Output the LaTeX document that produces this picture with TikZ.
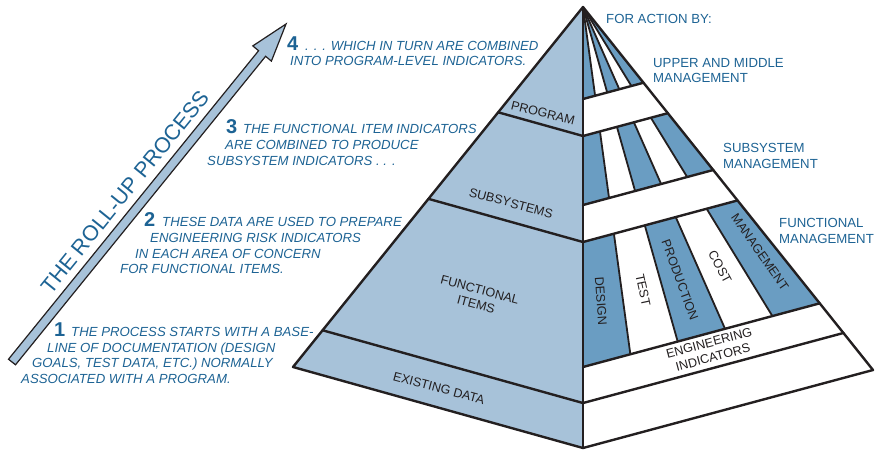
\documentclass[tikz,border=0pt]{standalone}
\usepackage{fontspec}
\setmainfont{Liberation Sans}
\usetikzlibrary{calc}
\definecolor{pyrlight}{HTML}{A7C2D9}
\definecolor{stripe}{HTML}{6A9DC2}
\definecolor{txtblue}{HTML}{1D6394}
\definecolor{ink}{HTML}{231F20}
\begin{document}
\begin{tikzpicture}[x=1pt,y=-1pt,
  edge/.style={draw=ink,line width=2.4pt,line join=round,line cap=round},
  ray/.style={draw=ink,line width=1.8pt},
  note/.style={font=\fontsize{13.2}{16}\selectfont\itshape,text=txtblue,anchor=base west,inner sep=0pt},
  num/.style={font=\fontsize{20}{20}\selectfont\bfseries,text=txtblue,anchor=base west,inner sep=0pt},
  side/.style={font=\fontsize{13.2}{16}\selectfont,text=txtblue,anchor=base west,inner sep=0pt},
  layer/.style={font=\fontsize{12.6}{15}\selectfont,text=ink,inner sep=0pt,align=center},
]
\useasboundingbox (0,0) rectangle (877,451);
% pyramid corners
\coordinate (A) at (583,7);
\coordinate (L) at (293,367);
\coordinate (F) at (583,448);
\coordinate (R) at (873,370);
\foreach \k in {0,...,5}{\coordinate (B\k) at ($(F)!\k/5!(R)$);}
% faces
\fill[pyrlight] (A) -- (L) -- (F) -- cycle;
\fill[white] (A) -- (F) -- (R) -- cycle;
% stripes
\foreach \k in {0,2,4}{
  \pgfmathtruncatemacro\kk{\k+1}
  \foreach \a/\b in {0/0.2086, 0.2925/0.449, 0.5329/0.8163}{
    \fill[stripe] ($(A)!\a!(B\k)$) -- ($(A)!\b!(B\k)$) -- ($(A)!\b!(B\kk)$) -- ($(A)!\a!(B\kk)$) -- cycle;
  }
}
\foreach \k in {1,...,4}{
  \foreach \a/\b in {0/0.2086, 0.2925/0.449, 0.5329/0.8163}{
    \draw[ray] ($(A)!\a!(B\k)$) -- ($(A)!\b!(B\k)$);
  }
}
% level lines
\foreach \s in {0.2086,0.2925,0.449,0.5329,0.8163,0.898}{
  \draw[edge] ($(A)!\s!(F)$) -- ($(A)!\s!(R)$);
}
\foreach \s in {0.2925,0.5329,0.898}{
  \draw[edge] ($(A)!\s!(L)$) -- ($(A)!\s!(F)$);
}
\draw[edge] (A) -- (L) -- (F) -- (R) -- cycle;
\draw[edge] (A) -- (F);
% roll-up arrow
\coordinate (ar1) at (15.5,364.8);
\coordinate (ar2) at (265.6,56.3);
\coordinate (ar3) at (271.4,61.1);
\coordinate (ar4) at (286,24);
\coordinate (ar5) at (252.8,45.9);
\coordinate (ar6) at (258.6,50.7);
\coordinate (ar7) at (8.5,359.2);
\draw[fill=pyrlight,draw=ink,line width=1.2pt,line join=miter]
  (ar1) -- (ar2) -- (ar3) -- (ar4) -- (ar5) -- (ar6) -- (ar7) -- cycle;
\node[rotate=51,font=\fontsize{21.5}{21.5}\selectfont,text=txtblue,inner sep=0pt] (rollup) at (125,192) {THE ROLL-UP PROCESS};
% notes
\node[num] (n4) at (287,50) {4};
\node[note] (t4a) at (305,50) {. . . WHICH IN TURN ARE COMBINED};
\node[note] (t4b) at (290,65) {INTO PROGRAM-LEVEL INDICATORS.};
\node[num] (n3) at (226,133) {3};
\node[note] (t3a) at (243,133) {THE FUNCTIONAL ITEM INDICATORS};
\node[note] (t3b) at (225,149) {ARE COMBINED TO PRODUCE};
\node[note] (t3c) at (207,165) {SUBSYSTEM INDICATORS . . .};
\node[num] (n2) at (144,226) {2};
\node[note] (t2a) at (162,226) {THESE DATA ARE USED TO PREPARE};
\node[note] (t2b) at (150,242) {ENGINEERING RISK INDICATORS};
\node[note] (t2c) at (135,258) {IN EACH AREA OF CONCERN};
\node[note] (t2d) at (120,273) {FOR FUNCTIONAL ITEMS.};
\node[num] (n1) at (54,336) {1};
\node[note] (t1a) at (71,336) {THE PROCESS STARTS WITH A BASE-};
\node[note] (t1b) at (47,352) {LINE OF DOCUMENTATION (DESIGN};
\node[note] (t1c) at (32,367) {GOALS, TEST DATA, ETC.) NORMALLY};
\node[note] (t1d) at (21,383) {ASSOCIATED WITH A PROGRAM.};
% side labels
\node[side] (act) at (606,23) {FOR ACTION BY:};
\node[side] (upm1) at (653,67) {UPPER AND MIDDLE};
\node[side] (upm2) at (653,82) {MANAGEMENT};
\node[side] (sub1) at (723,152) {SUBSYSTEM};
\node[side] (sub2) at (723,168) {MANAGEMENT};
\node[side] (fun1) at (779,227) {FUNCTIONAL};
\node[side] (fun2) at (779,243) {MANAGEMENT};
% layer labels
\node[layer,rotate=-14] (prog) at (543,113) {PROGRAM};
\node[layer,rotate=-15] (subs) at (511,203) {SUBSYSTEMS};
\node[layer,rotate=-15] (func) at (478,297) {FUNCTIONAL\\ITEMS};
\node[layer,rotate=-15] (exist) at (439,388) {EXISTING DATA};
\node[layer,rotate=-86] (des) at (601,301) {DESIGN};
\node[layer,rotate=-78] (test) at (643,290) {TEST};
\node[layer,rotate=-70] (prod) at (680,280) {PRODUCTION};
\node[layer,rotate=-62] (cost) at (720,267) {COST};
\node[layer,rotate=-55] (mgmt) at (760,252) {MANAGEMENT};
\node[layer,rotate=15] (eng) at (711,350) {ENGINEERING\\INDICATORS};
\end{tikzpicture}
\end{document}
